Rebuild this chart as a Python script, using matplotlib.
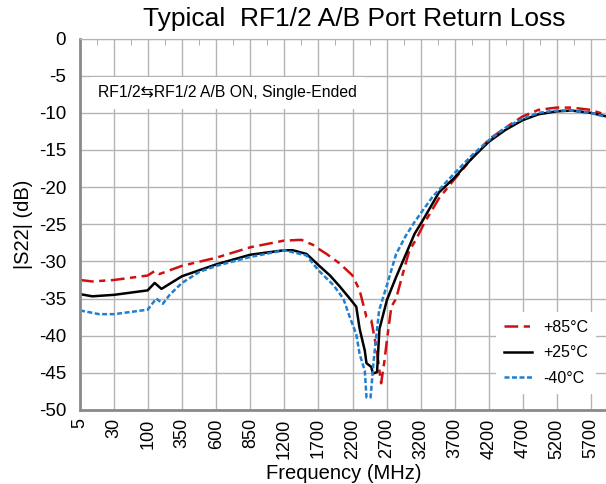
import numpy as np
import matplotlib
matplotlib.use("Agg")
import matplotlib.pyplot as plt

plt.rcParams["font.family"] = ["Liberation Sans", "DejaVu Sans"]
plt.rcParams["axes.unicode_minus"] = False

# category-style frequency axis: tick labels are evenly spaced
TICK_MHZ = [5, 30, 100, 350, 600, 850, 1200, 1700, 2200, 2700,
            3200, 3700, 4200, 4700, 5200, 5700]

# +85 C
f_hot = [5, 14, 30, 99, 148, 183, 348, 600, 850, 1197, 1450, 1625, 1700,
         1820, 2015, 2200, 2305, 2405, 2475, 2550, 2620, 2670, 2705, 2770,
         2840, 2940, 3035, 3130, 3250, 3470, 3700, 3955, 4200, 4445, 4695,
         4930, 5195, 5415, 5690, 5935]
s_hot = [-32.5, -32.7, -32.5, -31.9, -31.3, -31.7, -30.6, -29.5, -28.1, -27.2,
         -27.1, -27.8, -28.3, -29.0, -30.3, -31.9, -33.9, -37.5, -37.9, -41.6,
         -46.4, -43.3, -40.6, -36.1, -35.0, -31.6, -28.5, -27.1, -24.9, -21.5,
         -18.9, -16.1, -13.6, -12.0, -10.5, -9.6, -9.3, -9.3, -9.6, -10.3]

# +25 C
f_room = [5, 14, 30, 99, 148, 198, 348, 600, 850, 1197, 1325, 1525, 1620,
          1700, 1870, 2015, 2160, 2255, 2305, 2380, 2405, 2475, 2500, 2560,
          2595, 2705, 2840, 2985, 3110, 3230, 3470, 3700, 3955, 4200, 4445,
          4695, 4930, 5195, 5415, 5690, 5935]
s_room = [-34.4, -34.7, -34.5, -33.9, -32.9, -33.7, -32.0, -30.4, -29.1, -28.5,
          -28.5, -29.0, -29.8, -30.5, -31.9, -33.4, -35.0, -36.1, -39.1, -42.0,
          -43.7, -44.2, -45.1, -44.9, -39.1, -35.2, -32.1, -29.0, -26.3, -24.5,
          -20.7, -18.7, -16.1, -13.9, -12.3, -11.0, -10.2, -9.8, -9.7, -10.0,
          -10.5]

# -40 C
f_cold = [5, 19, 30, 99, 160, 208, 258, 348, 478, 600, 850, 1197, 1525, 1700,
          1920, 2065, 2160, 2255, 2305, 2380, 2405, 2465, 2510, 2590, 2705,
          2840, 2985, 3110, 3375, 3700, 3955, 4200, 4445, 4695, 4930, 5195,
          5415, 5690, 5935]
s_cold = [-36.6, -37.1, -37.1, -36.5, -35.0, -35.7, -34.5, -32.9, -31.4, -30.6,
          -29.4, -28.5, -29.2, -31.2, -33.2, -35.0, -37.5, -39.8, -42.5, -44.7,
          -48.3, -48.3, -43.4, -36.6, -33.2, -29.0, -26.5, -24.7, -21.3, -18.1,
          -15.7, -13.7, -12.0, -10.8, -10.0, -9.7, -9.7, -10.0, -10.6]

# extend the mapping one step past 5700 so the axis can run to the edge
map_f = np.array(TICK_MHZ + [6200], dtype=float)
map_u = np.arange(len(map_f), dtype=float)


def to_u(f):
    return np.interp(f, map_f, map_u)


def to_f(u):
    return np.interp(u, map_u, map_f)


fig = plt.figure(figsize=(6.06, 4.84), dpi=100)
ax = fig.add_axes([80 / 606, 74 / 484, 528 / 606, 371.5 / 484])
ax.set_xscale("function", functions=(to_u, to_f))

ax.plot(f_hot, s_hot, color="#d01010", lw=1.8, dashes=(5.5, 2.2, 2.5, 2.2),
        label="+85°C")
ax.plot(f_room, s_room, color="black", lw=1.8, label="+25°C")
ax.plot(f_cold, s_cold, color="#1f7fd0", lw=1.8, dashes=(2.0, 1.0),
        label="-40°C")

ax.set_xlim(5, to_f(15.5))
ax.set_ylim(-50, 0)
ax.set_xticks(TICK_MHZ)
ax.set_xticklabels([str(t) for t in TICK_MHZ], rotation=90, fontsize=13)
ax.set_xticks([to_f(i + 0.5) for i in range(15)], minor=True)
ax.set_yticks(np.arange(-50, 1, 5))
ax.tick_params(axis="y", labelsize=13.5, length=0, pad=10)
ax.tick_params(axis="x", which="major", length=0, pad=6)
ax.tick_params(axis="x", which="minor", bottom=False, top=True,
               direction="in", length=4, color="#a0a0a0")
ax.grid(True, which="major", color="#b4b4b4", lw=1)
ax.set_axisbelow(True)
for side in ["left", "bottom"]:
    ax.spines[side].set_color("#8a8a8a")
    ax.spines[side].set_linewidth(2)
for side in ["top", "right"]:
    ax.spines[side].set_color("#b4b4b4")

ax.set_xlabel("Frequency (MHz)", fontsize=14.5, labelpad=4)
ax.set_ylabel("|S22| (dB)", fontsize=14.5, labelpad=4)
fig.text(0.585, 0.96, "Typical  RF1/2 A/B Port Return Loss", fontsize=19,
         ha="center", va="center")

ax.text(98 / 606, 1 - 93 / 484, "RF1/2\u21c6RF1/2 A/B ON, Single-Ended",
        transform=fig.transFigure, fontsize=11.3, va="center", ha="left",
        bbox=dict(facecolor="white", edgecolor="none", pad=6))

leg = ax.legend(loc="upper left", bbox_to_anchor=(488 / 606, 1 - 304 / 484),
                bbox_transform=fig.transFigure, frameon=True, fancybox=False,
                framealpha=1, edgecolor="none", fontsize=11.5, handlelength=1.75,
                handletextpad=0.7, labelspacing=0.65, borderpad=0.5)

fig.savefig("out.png", dpi=100)
